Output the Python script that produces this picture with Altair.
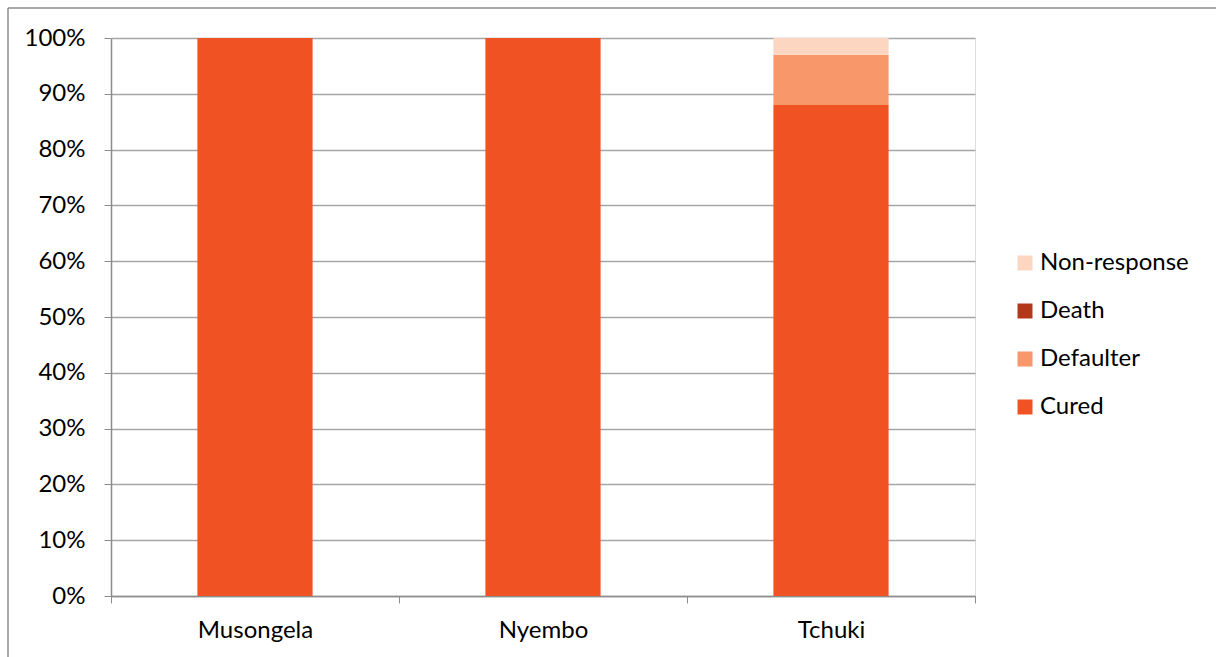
import altair as alt
import pandas as pd

# Treatment outcomes per site (share of cases)
sites = ["Musongela", "Nyembo", "Tchuki"]
outcomes = ["Cured", "Defaulter", "Death", "Non-response"]
cured = [1.00, 1.00, 0.88]
defaulter = [0.00, 0.00, 0.09]
death = [0.00, 0.00, 0.00]
non_response = [0.00, 0.00, 0.03]
colors = ["#F05224", "#F7976A", "#B2381A", "#FCD6C1"]

series = {"Cured": cured, "Defaulter": defaulter, "Death": death, "Non-response": non_response}
rows = []
for k, name in enumerate(outcomes):
    for site, v in zip(sites, series[name]):
        rows.append({"site": site, "outcome": name, "value": v, "order": k})
df = pd.DataFrame(rows)

FONT = "Lato"
FS = 24
W, H = 864, 558

bars = alt.Chart(df).mark_bar(stroke=None, width=alt.RelativeBandSize(0.4)).encode(
    x=alt.X("site:N", sort=sites, title=None,
            scale=alt.Scale(paddingInner=0, paddingOuter=0),
            axis=alt.Axis(labelAngle=0, labelFontSize=FS, labelFont=FONT, labelColor="#000000",
                          labelPadding=15, tickBand="extent", tickSize=7, tickColor="#8C8C8C",
                          domainColor="#8C8C8C", domainWidth=1.5, grid=False)),
    y=alt.Y("value:Q", stack="zero", title=None,
            scale=alt.Scale(domain=[0, 1], nice=False),
            axis=alt.Axis(format=".0%", values=[i / 10 for i in range(11)], labelFontSize=FS,
                          labelFont=FONT, labelColor="#000000", labelPadding=19, tickSize=7,
                          tickColor="#8C8C8C", domainColor="#8C8C8C", domainWidth=1.5,
                          gridColor="#A6A6A6", gridWidth=1.5)),
    color=alt.Color("outcome:N", sort=outcomes,
                    scale=alt.Scale(domain=outcomes, range=colors),
                    legend=alt.Legend(title=None, orient="none", legendX=902, legendY=213,
                                      direction="vertical", symbolType="square", symbolSize=225,
                                      symbolStrokeWidth=0, labelFontSize=FS, labelFont=FONT,
                                      labelColor="#000000", labelOffset=3, rowPadding=24,
                                      values=outcomes[::-1])),
    order=alt.Order("order:Q", sort="ascending"),
)

# Thin frame along the top and left edges of the figure
frame_top = alt.Chart(pd.DataFrame({"k": [0]})).mark_rule(color="#8C8C8C", strokeWidth=1.5).encode(
    x=alt.value(-103), x2=alt.value(W + 300), y=alt.value(-30))
frame_left = alt.Chart(pd.DataFrame({"k": [0]})).mark_rule(color="#8C8C8C", strokeWidth=1.5).encode(
    x=alt.value(-103), y=alt.value(-30), y2=alt.value(H + 100))

chart = alt.layer(bars, frame_top, frame_left).properties(
    width=W, height=H,
    autosize=alt.AutoSizeParams(type="none"),
    padding={"left": 111, "top": 38, "right": 241, "bottom": 61},
).configure_view(stroke=None).configure(background="#FFFFFF")

chart.save("out.html", embed_options={"renderer": "svg", "actions": False})
